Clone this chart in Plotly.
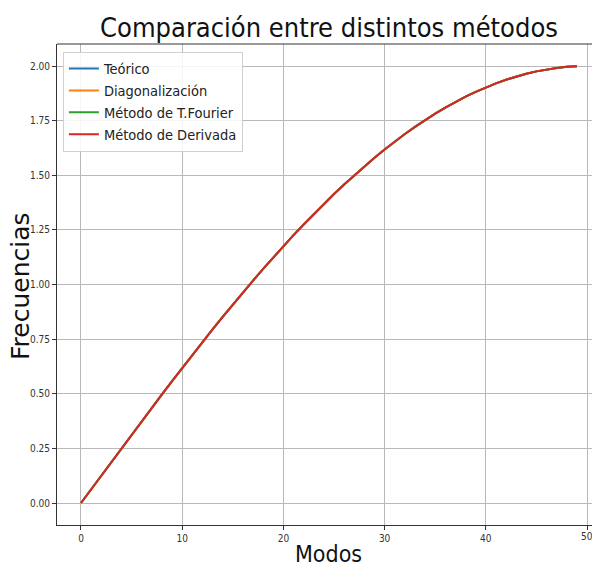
import plotly.graph_objects as go

modos = list(range(50))
teorico = [0.0000, 0.0628, 0.1256, 0.1882, 0.2507, 0.3129, 0.3748, 0.4363, 0.4974, 0.5580,
           0.6180, 0.6775, 0.7362, 0.7943, 0.8516, 0.9080, 0.9635, 1.0181, 1.0717, 1.1242,
           1.1756, 1.2258, 1.2748, 1.3226, 1.3691, 1.4142, 1.4579, 1.5002, 1.5410, 1.5803,
           1.6180, 1.6542, 1.6887, 1.7215, 1.7526, 1.7820, 1.8097, 1.8355, 1.8596, 1.8818,
           1.9021, 1.9206, 1.9372, 1.9518, 1.9646, 1.9754, 1.9842, 1.9911, 1.9961, 1.9990]
diagonalizacion = list(teorico)
fourier = list(teorico)
derivada = list(teorico)

series = [("Teórico", teorico, "#1f77b4"),
          ("Diagonalización", diagonalizacion, "#ff7f0e"),
          ("Método de T.Fourier", fourier, "#2ca02c"),
          ("Método de Derivada", derivada, "#d62728")]

xticks = [0, 10, 20, 30, 40, 50]
yticks = [0.0, 0.25, 0.5, 0.75, 1.0, 1.25, 1.5, 1.75, 2.0]

FONT = "DejaVu Sans Condensed, Liberation Sans Narrow, DejaVu Sans"

fig = go.Figure()
for name, vals, col in series:
    fig.add_trace(go.Scatter(x=modos, y=vals, mode="lines", name=name,
                             line=dict(color=col, width=2)))

W, H = 592, 563
fig.update_layout(
    width=W, height=H,
    margin=dict(l=57, r=0, t=44, b=38),
    paper_bgcolor="white", plot_bgcolor="white",
    font=dict(family=FONT, color="#333"),
    showlegend=True,
    legend=dict(x=0.011, y=0.984, xanchor="left", yanchor="top",
                bgcolor="rgba(255,255,255,0.85)", bordercolor="#d0d0d0", borderwidth=1,
                font=dict(size=14.5, family=FONT, color="#222"), itemwidth=30,
                tracegroupgap=0),
    title=dict(text="Comparación entre distintos métodos", x=329 / W, xref="container",
               xanchor="center", y=1 - 28 / H, yref="container", yanchor="middle",
               font=dict(size=27, family=FONT, color="#111")),
    xaxis=dict(range=[-2.37, 50.49], tickvals=xticks, ticktext=[str(v) for v in xticks],
               showgrid=True, gridcolor="#b8b8b8", gridwidth=1, zeroline=False,
               showline=True, linecolor="#333", linewidth=1, mirror=False,
               ticks="outside", ticklen=4, tickcolor="#333",
               tickfont=dict(size=10, family=FONT, color="#333")),
    yaxis=dict(range=[-0.1007, 2.1007], tickvals=yticks, ticktext=[f"{v:.2f}" for v in yticks],
               showgrid=True, gridcolor="#b8b8b8", gridwidth=1, zeroline=False,
               showline=True, linecolor="#333", linewidth=1, mirror=False,
               ticks="outside", ticklen=4, tickcolor="#333",
               tickfont=dict(size=10, family=FONT, color="#333")),
    shapes=[dict(type="line", xref="paper", yref="paper", x0=0, x1=1, y0=1, y1=1,
                 line=dict(color="#333", width=1))],
    annotations=[
        dict(text=str(xticks[-1]), xref="x", yref="paper", x=xticks[-1], y=0, yshift=-11,
             xanchor="center", yanchor="middle", showarrow=False,
             font=dict(size=10, family=FONT, color="#333")),
        dict(text="Modos", xref="paper", yref="paper", x=(328 - 57) / (W - 57), y=-(554 - 525) / 481,
             xanchor="center", yanchor="middle", showarrow=False,
             font=dict(size=23, family=FONT, color="#111")),
        dict(text="Frecuencias", xref="paper", yref="paper", x=-(57 - 20) / (W - 57), y=(525 - 286) / 481,
             xanchor="center", yanchor="middle", showarrow=False, textangle=-90,
             font=dict(size=25, family="DejaVu Sans", color="#111")),
    ],
)

fig.write_html("out.html")
